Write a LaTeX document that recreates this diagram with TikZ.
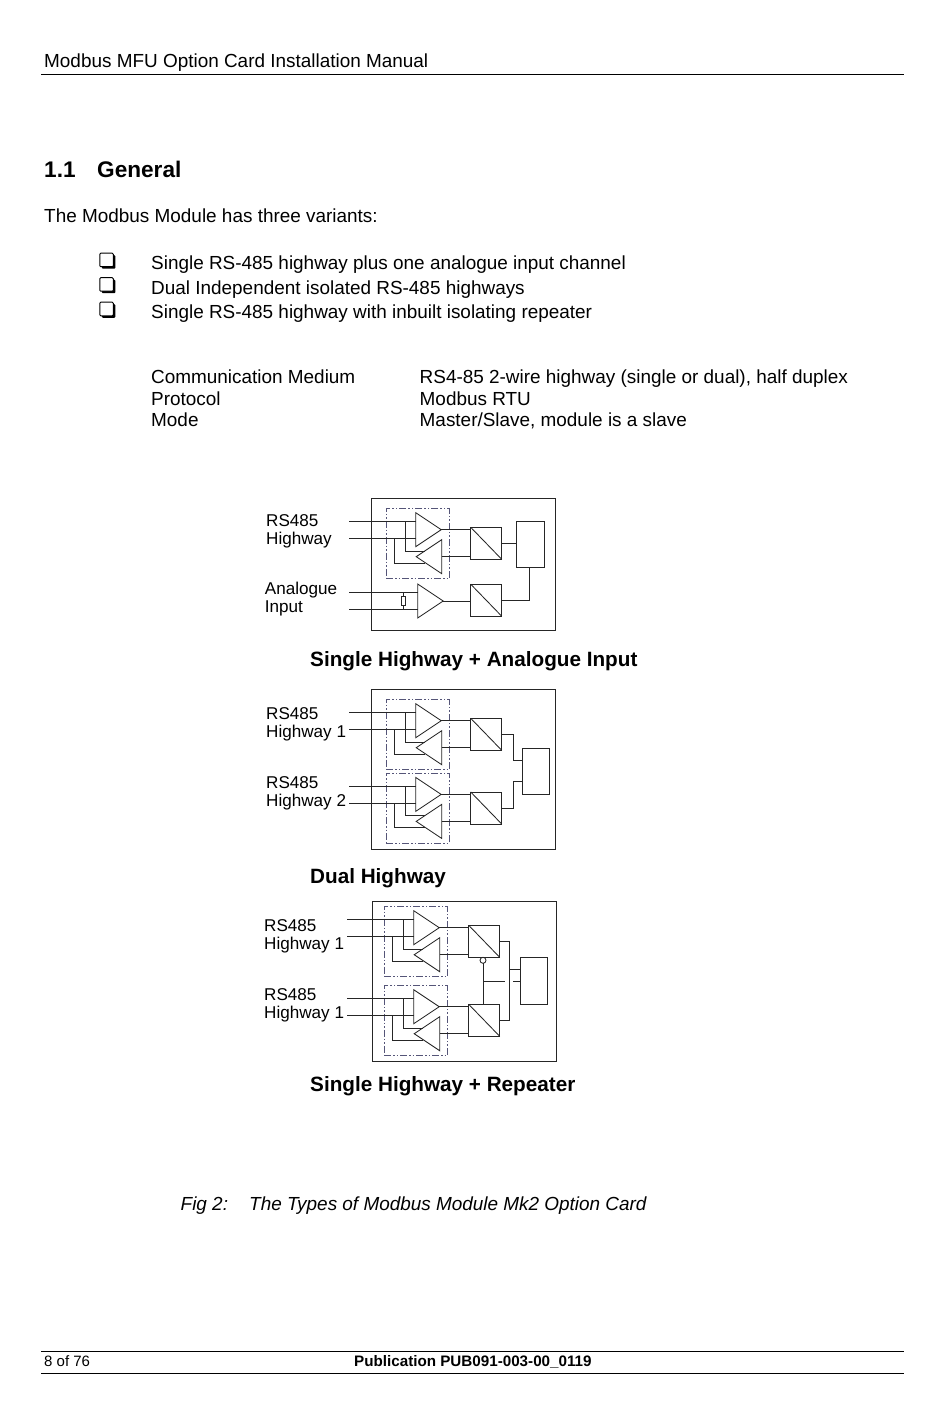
\documentclass[tikz,border=0pt]{standalone}
\usepackage{fontspec}
\setmainfont{Liberation Sans}
\usetikzlibrary{shapes.geometric, shadows}

\definecolor{isoline}{RGB}{85,85,120}

\tikzset{
    body/.style={anchor=base west, inner sep=0pt, font=\fontsize{18.93}{22}\selectfont},
    caption/.style={anchor=base west, inner sep=0pt, font=\fontsize{20.7}{24}\selectfont\bfseries},
    tag/.style={anchor=west, inner sep=0pt, align=left, font=\fontsize{17.1}{18}\selectfont},
    wire/.style={draw=black!85, line width=0.85pt},
    outerbox/.style={wire, rectangle, inner sep=0pt, outer sep=0pt},
    isobox/.style={draw=isoline, line width=0.85pt, rectangle, inner sep=0pt,
        minimum width=63.3pt, minimum height=69.6pt, dash pattern=on 7pt off 2pt on 1.5pt off 2pt on 1.5pt off 2pt},
    conv/.style={outerbox, minimum width=31pt, minimum height=32pt},
    amp/.style={wire, isosceles triangle, isosceles triangle stretches, inner sep=0pt, outer sep=0pt,
        minimum width=34pt, minimum height=25.5pt, anchor=lower side},
    chkbox/.style={rectangle, draw, fill=white, line width=1pt, rounded corners=1pt, minimum size=13.5pt, inner sep=0pt,
        drop shadow={shadow xshift=2pt, shadow yshift=-2pt, fill=black, opacity=1}},
}

\begin{document}
\begin{tikzpicture}[x=1pt, y=-1pt]
    \useasboundingbox (0,0) rectangle (950,1420);
    % page text
    \node[body] (title) at (44,67.5) {Modbus MFU Option Card Installation Manual};
    \coordinate (headl) at (41,74.5);
    \coordinate (headr) at (904,74.5);
    \draw[line width=1pt] (headl) -- (headr);
    \node[anchor=base west, inner sep=0pt, font=\fontsize{22.6}{26}\selectfont\bfseries] (secnum) at (44,178) {1.1};
    \node[anchor=base west, inner sep=0pt, font=\fontsize{22.6}{26}\selectfont\bfseries] (sec) at (97,178) {General};
    \node[body] (intro) at (44,223) {The Modbus Module has three variants:};
    \foreach \n/\y/\t in {1/269.7/Single RS-485 highway plus one analogue input channel,
                          2/294.2/Dual Independent isolated RS-485 highways,
                          3/318.7/Single RS-485 highway with inbuilt isolating repeater} {
        \node[chkbox] (chk\n) at (106.5,\y-9.7) {};
        \node[body] (item\n) at (151,\y) {\t};
    }
    \node[body] (key1) at (151,383) {Communication Medium};
    \node[body] (key2) at (151,405) {Protocol};
    \node[body] (key3) at (151,426.5) {Mode};
    \node[body] (val1) at (419.5,383) {RS4-85 2-wire highway (single or dual), half duplex};
    \node[body] (val2) at (419.5,405) {Modbus RTU};
    \node[body] (val3) at (419.5,426.5) {Master/Slave, module is a slave};

    % outer boxes
    \node[outerbox, minimum width=184.4pt, minimum height=132.4pt] (card1) at (463.5,564.5) {};
    \node[outerbox, minimum width=184.4pt, minimum height=159.7pt] (card2) at (463.5,769.2) {};
    \node[outerbox, minimum width=184pt, minimum height=159.3pt] (card3) at (464.3,981.4) {};

    % transceiver blocks
    \foreach \n/\x/\y/\l/\t in {a/0/0/531.5/RS485\\Highway,
                                b/0/191/533.5/RS485\\Highway 1,
                                c/0/264.7/528.5/RS485\\Highway 2,
                                d/-2/398/538.5/RS485\\Highway 1,
                                e/-2/477/528.5/RS485\\Highway 1} {
        \begin{scope}[shift={(\x,\y)}]
            \node[isobox] (\n-iso) at (417.65,543.5) {};
            \node[amp] (\n-up) at (415.7,529.7) {};
            \node[amp, shape border rotate=180] (\n-dn) at (441.7,556.7) {};
            \node[conv] (\n-conv) at (486.2,543.3) {};
            \node[tag] (\n-tag) at (266,\l) {\t};
            \coordinate (\n-in1) at (349,521.7);
            \coordinate (\n-in2) at (349,538.3);
            \coordinate (\n-j1) at (405.7,521.7);
            \coordinate (\n-j2) at (394.3,538.3);
            \coordinate (\n-f1) at (425,551);
            \coordinate (\n-f2) at (425,563);
            \draw[wire] (\n-conv.north west) -- (\n-conv.south east);
            \draw[wire] (\n-in1) -- (\n-in1 -| \n-up.lower side);
            \draw[wire] (\n-in2) -- (\n-in2 -| \n-up.lower side);
            \draw[wire] (\n-j1) |- (\n-f1);
            \draw[wire] (\n-j2) |- (\n-f2);
            \draw[wire] (\n-up.apex) -- (\n-up.apex -| \n-conv.west);
            \draw[wire] (\n-dn.lower side) -- (\n-dn.lower side -| \n-conv.west);
        \end{scope}
    }

    % single highway + analogue input
    \node[tag] (an-tag) at (264.7,599.5) {Analogue\\Input};
    \node[amp] (an-amp) at (417.7,601) {};
    \node[conv] (an-conv) at (486.2,600.2) {};
    \node[outerbox, minimum width=27.6pt, minimum height=46.4pt] (mcu1) at (530.5,544.5) {};
    \node[outerbox, minimum width=4.4pt, minimum height=9pt] (res) at (403.5,601.2) {};
    \coordinate (an-in1) at (349,592.3);
    \coordinate (an-in2) at (349,609.3);
    \draw[wire] (an-conv.north west) -- (an-conv.south east);
    \draw[wire] (an-in1) -- (an-in1 -| an-amp.lower side);
    \draw[wire] (an-in2) -- (an-in2 -| an-amp.lower side);
    \draw[wire] (res.north) -- (res.north |- an-in1);
    \draw[wire] (res.south) -- (res.south |- an-in2);
    \draw[wire] (an-amp.apex) -- (an-amp.apex -| an-conv.west);
    \draw[wire] (a-conv.east) -- (a-conv.east -| mcu1.west);
    \draw[wire] (an-conv.east) -| (mcu1.south -| 529.3,0);
    \node[caption] (cap1) at (310,666) {Single Highway + Analogue Input};

    % dual highway
    \node[outerbox, minimum width=26.6pt, minimum height=46pt] (mcu2) at (536,771) {};
    \coordinate (m2a) at (522.7,760.7);
    \coordinate (m2b) at (522.7,781.3);
    \coordinate (m2bus) at (513,771);
    \draw[wire] (b-conv.east) -| (m2bus |- m2a) -- (m2a);
    \draw[wire] (c-conv.east) -| (m2bus |- m2b) -- (m2b);
    \node[caption] (cap2) at (310,883) {Dual Highway};

    % single highway + repeater
    \node[outerbox, minimum width=27.4pt, minimum height=47.4pt] (mcu3) at (534,981) {};
    \node[circle, wire, inner sep=0pt, outer sep=0pt, minimum size=6pt] (rep) at (483,960.3) {};
    \coordinate (m3bus) at (509,960);
    \coordinate (m3a) at (520.3,969.7);
    \coordinate (m3t) at (483,981.3);
    \coordinate (m3g1) at (505,981.3);
    \coordinate (m3g2) at (513,981.3);
    \coordinate (m3g3) at (520.3,981.3);
    \draw[wire] (d-conv.east) -| (m3bus |- e-conv.east) -- (e-conv.east);
    \draw[wire] (m3a -| m3bus) -- (m3a);
    \draw[wire] (rep.south) -- (rep.south |- e-conv.north);
    \draw[wire] (m3t) -- (m3g1);
    \draw[wire] (m3g2) -- (m3g3);
    \node[caption] (cap3) at (310,1091) {Single Highway + Repeater};

    \node[body, font=\fontsize{18.93}{22}\selectfont\itshape] (fig) at (180.5,1210) {Fig 2:};
    \node[body, font=\fontsize{18.93}{22}\selectfont\itshape] (figt) at (249,1210) {The Types of Modbus Module Mk2 Option Card};

    % footer
    \coordinate (footl) at (41,1351);
    \coordinate (footr) at (904,1351);
    \coordinate (footl2) at (41,1373);
    \coordinate (footr2) at (904,1373);
    \draw[line width=1pt] (footl) -- (footr);
    \draw[line width=0.7pt] (footl2) -- (footr2);
    \node[anchor=base west, inner sep=0pt, font=\fontsize{15}{18}\selectfont] (page) at (44,1366.5) {8 of 76};
    \node[anchor=base west, inner sep=0pt, font=\fontsize{15.2}{18}\selectfont\bfseries] (pub) at (354,1366.5) {Publication PUB091-003-00\_0119};
\end{tikzpicture}
\end{document}
